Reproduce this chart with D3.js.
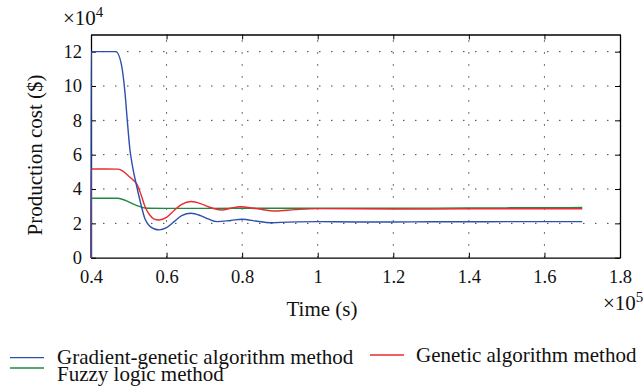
<!DOCTYPE html>
<html><head><meta charset="utf-8">
<script src="https://cdn.jsdelivr.net/npm/d3@7"></script>
<style>
body{margin:0;background:#fff;}
svg text{font-family:"Liberation Serif","Times New Roman",serif !important;fill:#111;}
</style></head>
<body><svg id="c" width="643" height="392"></svg>
<script>
// Time in units of 10^5 s, cost in units of 10^4 $
const xTicks = [0.4, 0.6, 0.8, 1, 1.2, 1.4, 1.6, 1.8];
const yTicks = [0, 2, 4, 6, 8, 10, 12];
const seriesNames = ["Gradient-genetic algorithm method", "Genetic algorithm method", "Fuzzy logic method"];
const seriesColors = ["#2d4fae", "#ea2a30", "#1f8a3e"];

const gradT = [0.4, 0.4005, 0.43, 0.466, 0.48, 0.49, 0.496, 0.503, 0.51, 0.52, 0.53, 0.543, 0.555, 0.568, 0.58, 0.60, 0.62, 0.64, 0.665, 0.69, 0.71, 0.733, 0.77, 0.80, 0.84, 0.874, 0.92, 1.0, 1.1, 1.2, 1.3, 1.4, 1.5, 1.6, 1.7];
const gradV = [0, 12, 12, 12, 11.3, 9.6, 8.0, 6.3, 5.3, 4.25, 3.3, 2.25, 1.85, 1.67, 1.62, 1.75, 2.1, 2.45, 2.59, 2.45, 2.26, 2.1, 2.17, 2.24, 2.12, 2.04, 2.07, 2.1, 2.08, 2.08, 2.09, 2.09, 2.1, 2.1, 2.1];

const genT = [0.4, 0.4005, 0.44, 0.47, 0.48, 0.49, 0.50, 0.51, 0.521, 0.532, 0.543, 0.555, 0.567, 0.58, 0.60, 0.62, 0.64, 0.665, 0.69, 0.71, 0.746, 0.77, 0.794, 0.84, 0.887, 0.94, 1.0, 1.1, 1.2, 1.3, 1.4, 1.5, 1.6, 1.7];
const genV = [0, 5.17, 5.17, 5.16, 5.1, 4.95, 4.75, 4.55, 4.3, 3.7, 2.97, 2.5, 2.25, 2.2, 2.35, 2.75, 3.1, 3.27, 3.15, 2.97, 2.78, 2.88, 2.97, 2.85, 2.72, 2.8, 2.86, 2.85, 2.84, 2.84, 2.85, 2.85, 2.85, 2.85];

const fuzT = [0.4, 0.4005, 0.44, 0.471, 0.48, 0.50, 0.52, 0.535, 0.55, 0.60, 0.8, 1.0, 1.2, 1.4, 1.6, 1.7];
const fuzV = [0, 3.46, 3.46, 3.46, 3.42, 3.25, 3.05, 2.93, 2.88, 2.87, 2.88, 2.88, 2.88, 2.9, 2.91, 2.92];

const svg = d3.select("#c");
const L = 91, R = 620, T = 34.5, B = 257.7;
const x = d3.scaleLinear().domain([0.4, 1.8]).range([L, R]);
const y = d3.scaleLinear().domain([0, 13]).range([B, T]);
const FONT = '"Liberation Serif","Times New Roman",serif';
const lfs = 21, tfs = 18.5;

// grid
const g = svg.append("g");
g.selectAll(".gx").data(xTicks.slice(1, -1)).join("line")
  .attr("x1", d => x(d)).attr("x2", d => x(d)).attr("y1", B).attr("y2", T)
  .attr("stroke", "#444").attr("stroke-width", 1).attr("stroke-dasharray", "1.5,10.5");
g.selectAll(".gy").data(yTicks.slice(1)).join("line")
  .attr("x1", L).attr("x2", R).attr("y1", d => y(d)).attr("y2", d => y(d))
  .attr("stroke", "#444").attr("stroke-width", 1).attr("stroke-dasharray", "1.5,10.5");

// axes
const xa = svg.append("g").attr("transform", `translate(0,${B})`)
  .call(d3.axisBottom(x).tickValues(xTicks).tickSizeInner(-5).tickSizeOuter(0).tickPadding(12).tickFormat(d3.format("")));
const ya = svg.append("g").attr("transform", `translate(${L},0)`)
  .call(d3.axisLeft(y).tickValues(yTicks).tickSizeInner(-5).tickSizeOuter(0).tickPadding(9));
const xt = svg.append("g").attr("transform", `translate(0,${T})`)
  .call(d3.axisTop(x).tickValues(xTicks).tickSizeInner(-5).tickSizeOuter(0).tickFormat(""));
const yr = svg.append("g").attr("transform", `translate(${R},0)`)
  .call(d3.axisRight(y).tickValues(yTicks).tickSizeInner(-5).tickSizeOuter(0).tickFormat(""));
[xa, ya, xt, yr].forEach(a => {
  a.attr("font-family", null).attr("font-size", null);
  a.select(".domain").attr("stroke", "#000").attr("stroke-width", 1.3);
  a.selectAll(".tick line").attr("stroke", "#000");
  a.selectAll("text").style("font-family", FONT).style("font-size", tfs + "px").style("fill", "#111");
});

// lines
const line = d3.line().x(d => x(d[0])).y(d => y(d[1])).curve(d3.curveMonotoneX);
const data = [
  d3.zip(gradT, gradV),
  d3.zip(genT, genV),
  d3.zip(fuzT, fuzV)
];
[2, 1, 0].forEach(i => {
  svg.append("path").datum(data[i]).attr("d", line)
    .attr("fill", "none").attr("stroke", seriesColors[i]).attr("stroke-width", 1.4);
});

function txt(xp, yp, size) {
  return svg.append("text").attr("x", xp).attr("y", yp)
    .style("font-family", FONT).style("font-size", size + "px");
}
// exponent labels
const e4 = txt(63, 25, lfs);
e4.append("tspan").text("×10");
e4.append("tspan").style("font-size", "15px").attr("dy", -8).text("4");
const e5 = txt(603, 310, lfs);
e5.append("tspan").text("×10");
e5.append("tspan").style("font-size", "15px").attr("dy", -8).text("5");

// axis titles
txt(322, 316, lfs).attr("text-anchor", "middle").text("Time (s)");
svg.append("text").attr("transform", "translate(42,155) rotate(-90)").attr("text-anchor", "middle")
  .style("font-family", FONT).style("font-size", lfs + "px").text("Production cost ($)");

// legend
const leg = [
  {i: 0, lx: 10, ly: 357.7, tx: 57, ty: 364},
  {i: 1, lx: 370, ly: 355, tx: 416, ty: 361.5},
  {i: 2, lx: 10, ly: 368, tx: 57, ty: 381}
];
leg.forEach(o => {
  svg.append("line").attr("x1", o.lx).attr("x2", o.lx + 34).attr("y1", o.ly).attr("y2", o.ly)
    .attr("stroke", seriesColors[o.i]).attr("stroke-width", 1.3);
  txt(o.tx, o.ty, lfs).text(seriesNames[o.i]);
});
</script></body></html>
